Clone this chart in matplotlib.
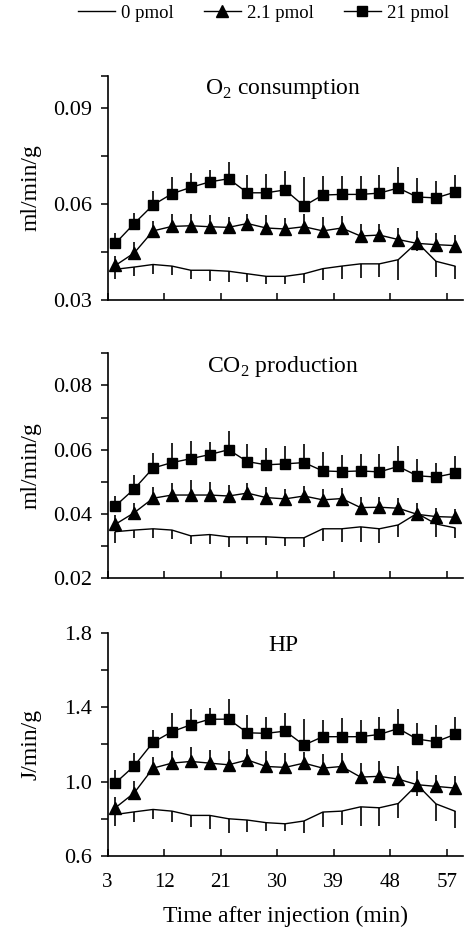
import matplotlib
matplotlib.use("Agg")
import matplotlib.pyplot as plt
from matplotlib.lines import Line2D

plt.rcParams["font.family"] = ["Liberation Serif", "DejaVu Serif"]
plt.rcParams["mathtext.fontset"] = "custom"
plt.rcParams["mathtext.rm"] = "Liberation Serif"

# time points (min)
time_min = [4.25, 7.25, 10.25, 13.25, 16.25, 19.25, 22.25, 25.25, 28.25, 31.25,
            34.25, 37.25, 40.25, 43.25, 46.25, 49.25, 52.25, 55.25, 58.25]
doses = ["0 pmol", "2.1 pmol", "21 pmol"]

# O2 consumption (ml/min/g)
o2_0 = [0.0396, 0.0403, 0.0411, 0.0406, 0.0393, 0.0393, 0.0390, 0.0382, 0.0374, 0.0374,
        0.0382, 0.0398, 0.0406, 0.0413, 0.0413, 0.0426, 0.0480, 0.0421, 0.0406]
o2_0_err = [0.0031, 0.0028, 0.0029, 0.0029, 0.0028, 0.0033, 0.0035, 0.0027, 0.0025, 0.0023,
            0.0028, 0.0034, 0.0040, 0.0043, 0.0041, 0.0064, 0.0026, 0.0049, 0.0039]
o2_21 = [0.0408, 0.0447, 0.0516, 0.0530, 0.0532, 0.0529, 0.0527, 0.0539, 0.0525, 0.0522,
         0.0529, 0.0516, 0.0525, 0.0500, 0.0503, 0.0489, 0.0477, 0.0473, 0.0470]
o2_21_err = [0.0031, 0.0033, 0.0031, 0.0038, 0.0038, 0.0037, 0.0033, 0.0029, 0.0041, 0.0034,
             0.0039, 0.0044, 0.0036, 0.0037, 0.0034, 0.0036, 0.0039, 0.0035, 0.0034]
o2_210 = [0.0477, 0.0539, 0.0597, 0.0632, 0.0652, 0.0669, 0.0679, 0.0635, 0.0635, 0.0644,
          0.0594, 0.0628, 0.0630, 0.0630, 0.0634, 0.0650, 0.0622, 0.0619, 0.0637]
o2_210_err = [0.0031, 0.0034, 0.0043, 0.0052, 0.0046, 0.0038, 0.0052, 0.0057, 0.0060, 0.0060,
              0.0090, 0.0059, 0.0057, 0.0057, 0.0058, 0.0067, 0.0058, 0.0052, 0.0055]

# CO2 production (ml/min/g)
co2_0 = [0.0345, 0.0350, 0.0354, 0.0350, 0.0332, 0.0336, 0.0329, 0.0329, 0.0329, 0.0326,
         0.0326, 0.0354, 0.0354, 0.0360, 0.0354, 0.0366, 0.0402, 0.0369, 0.0357]
co2_0_err = [0.0034, 0.0026, 0.0030, 0.0029, 0.0026, 0.0028, 0.0033, 0.0023, 0.0026, 0.0026,
             0.0030, 0.0038, 0.0041, 0.0047, 0.0044, 0.0039, 0.0016, 0.0042, 0.0033]
co2_21 = [0.0368, 0.0404, 0.0449, 0.0459, 0.0459, 0.0459, 0.0456, 0.0465, 0.0451, 0.0447,
          0.0456, 0.0444, 0.0448, 0.0420, 0.0421, 0.0418, 0.0399, 0.0392, 0.0390]
co2_21_err = [0.0029, 0.0029, 0.0036, 0.0039, 0.0047, 0.0042, 0.0034, 0.0033, 0.0034, 0.0030,
              0.0031, 0.0033, 0.0032, 0.0032, 0.0031, 0.0031, 0.0034, 0.0028, 0.0025]
co2_210 = [0.0425, 0.0478, 0.0543, 0.0560, 0.0572, 0.0585, 0.0600, 0.0563, 0.0553, 0.0556,
           0.0560, 0.0534, 0.0532, 0.0534, 0.0531, 0.0548, 0.0519, 0.0515, 0.0527]
co2_210_err = [0.0031, 0.0044, 0.0047, 0.0060, 0.0054, 0.0039, 0.0057, 0.0055, 0.0052, 0.0056,
               0.0057, 0.0058, 0.0052, 0.0052, 0.0056, 0.0065, 0.0052, 0.0044, 0.0052]

# heat production (J/min/g)
hp_0 = [0.823, 0.837, 0.850, 0.841, 0.818, 0.818, 0.800, 0.793, 0.779, 0.773,
        0.788, 0.836, 0.841, 0.864, 0.859, 0.882, 0.983, 0.880, 0.841]
hp_0_err = [0.062, 0.055, 0.053, 0.059, 0.060, 0.071, 0.078, 0.064, 0.044, 0.039,
            0.066, 0.078, 0.076, 0.103, 0.098, 0.076, 0.062, 0.092, 0.089]
hp_21 = [0.859, 0.939, 1.072, 1.099, 1.108, 1.099, 1.090, 1.116, 1.081, 1.076,
         1.099, 1.072, 1.081, 1.024, 1.028, 1.013, 0.983, 0.974, 0.965]
hp_21_err = [0.059, 0.062, 0.062, 0.066, 0.076, 0.071, 0.075, 0.057, 0.084, 0.076,
             0.062, 0.076, 0.075, 0.078, 0.080, 0.068, 0.076, 0.062, 0.066]
hp_210 = [0.992, 1.084, 1.211, 1.268, 1.305, 1.335, 1.335, 1.262, 1.259, 1.271,
          1.196, 1.241, 1.241, 1.241, 1.253, 1.285, 1.228, 1.214, 1.253]
hp_210_err = [0.068, 0.068, 0.066, 0.101, 0.084, 0.062, 0.110, 0.094, 0.089, 0.098,
              0.142, 0.092, 0.101, 0.092, 0.094, 0.107, 0.089, 0.092, 0.094]

x_ticks = [3, 12, 21, 30, 39, 48, 57]

panels = [
    dict(title=r"O$_\mathregular{2}$ consumption", ylabel="ml/min/g",
         ylim=(0.03, 0.1), yticks=[0.03, 0.045, 0.06, 0.075, 0.09, 0.1],
         ylabels=["0.03", "", "0.06", "", "0.09", ""],
         series=[(o2_0, o2_0_err), (o2_21, o2_21_err), (o2_210, o2_210_err)]),
    dict(title=r"CO$_\mathregular{2}$ production", ylabel="ml/min/g",
         ylim=(0.02, 0.09), yticks=[0.02, 0.03, 0.04, 0.05, 0.06, 0.07, 0.08, 0.09],
         ylabels=["0.02", "", "0.04", "", "0.06", "", "0.08", ""],
         series=[(co2_0, co2_0_err), (co2_21, co2_21_err), (co2_210, co2_210_err)]),
    dict(title="HP", ylabel="J/min/g",
         ylim=(0.6, 1.8), yticks=[0.6, 0.8, 1.0, 1.2, 1.4, 1.6, 1.8],
         ylabels=["0.6", "", "1.0", "", "1.4", "", "1.8"],
         series=[(hp_0, hp_0_err), (hp_21, hp_21_err), (hp_210, hp_210_err)]),
]

fig = plt.figure(figsize=(4.65, 9.3), dpi=100)
ax_rects = [[0.2312, 0.6774, 0.7638, 0.2409],
            [0.2312, 0.3782, 0.7638, 0.2419],
            [0.2312, 0.0796, 0.7638, 0.2401]]

markers = [None, "^", "s"]
msizes = [0, 8.5, 7.5]

for i, p in enumerate(panels):
    ax = fig.add_axes(ax_rects[i])
    for k, (vals, err) in enumerate(p["series"]):
        zeros = [0] * len(err)
        # 0 pmol bars hang down, the others point up
        yerr = [err, zeros] if k == 0 else [zeros, err]
        ax.errorbar(time_min, vals, yerr=yerr, color="black", lw=1.0,
                    elinewidth=1.2, capsize=0, marker=markers[k],
                    markersize=msizes[k], zorder=2 + k)
    ax.set_xlim(3, 59.5)
    ax.set_ylim(*p["ylim"])
    ax.set_yticks(p["yticks"])
    ax.set_yticklabels(p["ylabels"])
    ax.set_xticks(x_ticks)
    if i == 2:
        ax.set_xticklabels([str(t) for t in x_ticks])
        ax.set_xlabel("Time after injection (min)", fontsize=17)
        ax.xaxis.set_label_coords(0.5, -0.225)
        ax.xaxis.label.set_va("top")
    else:
        ax.set_xticklabels([])
    ax.tick_params(axis="x", direction="in", length=5, width=1.1, labelsize=15, pad=12)
    ax.tick_params(axis="y", direction="out", length=5, width=1.1, labelsize=16, pad=6)
    for s in ["top", "right"]:
        ax.spines[s].set_visible(False)
    for s in ["left", "bottom"]:
        ax.spines[s].set_linewidth(1.2)
    ax.set_ylabel(p["ylabel"], fontsize=17)
    ax.yaxis.set_label_coords(-0.185, 0.5)
    ax.text(0.494, 0.918, p["title"], transform=ax.transAxes, ha="center",
            va="baseline", fontsize=17)

handles = [Line2D([], [], color="black", lw=1.0, marker=markers[k], markersize=msizes[k])
           for k in range(3)]
fig.legend(handles, doses, loc="center", bbox_to_anchor=(0.566, 0.986), ncol=3,
           frameon=False, fontsize=13.5, handlelength=2.0, handletextpad=0.3,
           columnspacing=1.6, borderpad=0)

fig.savefig("out.png", dpi=100)
